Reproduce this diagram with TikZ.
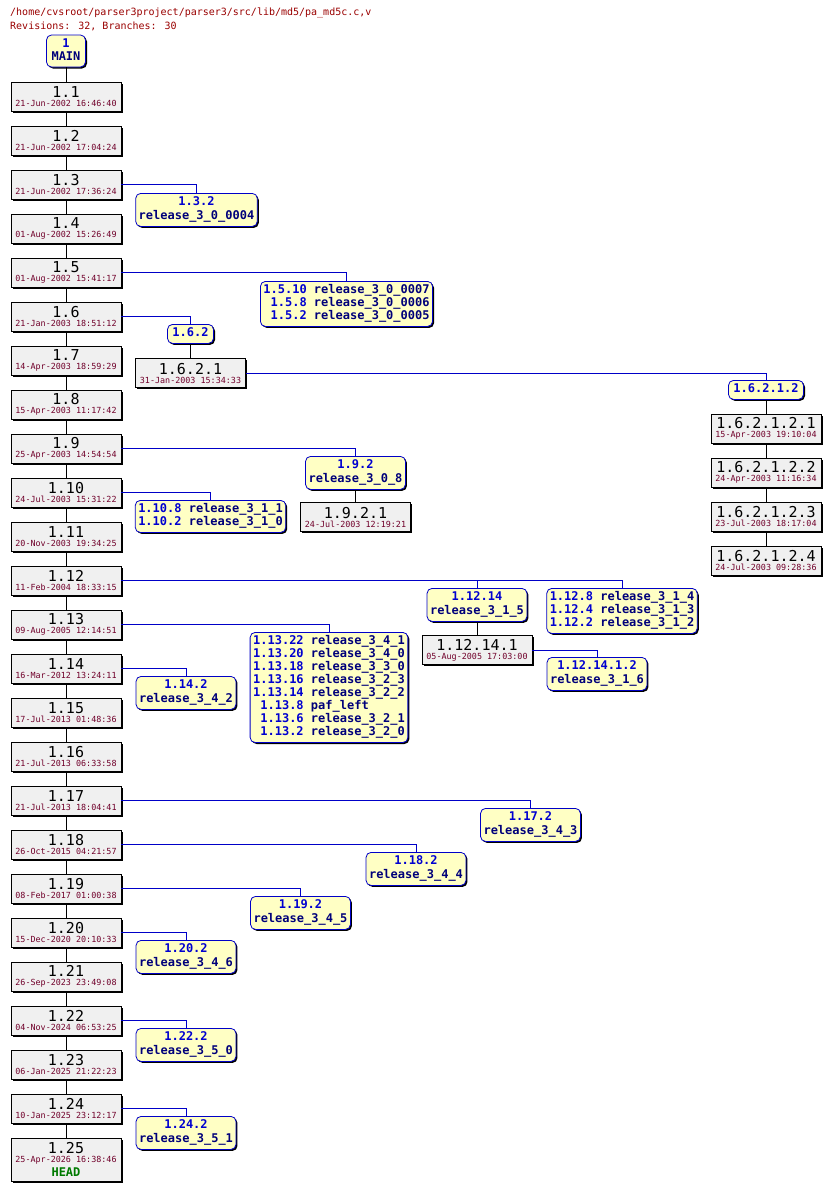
\documentclass[tikz,border=0pt]{standalone}
\usepackage{fontspec}
\setmainfont{DejaVu Sans Mono}
\usepackage{tikz}
\usetikzlibrary{positioning,shadows}
\definecolor{RevFill}{HTML}{F0F0F0}
\definecolor{BrFill}{HTML}{FFFFC4}
\definecolor{BrLine}{HTML}{0000C8}
\definecolor{BrRev}{HTML}{0000D0}
\definecolor{BrTag}{HTML}{00007A}
\definecolor{DateRed}{HTML}{70002A}
\definecolor{PathRed}{HTML}{990000}
\definecolor{HeadGreen}{HTML}{007A00}
\newcommand\revtxt[2]{{\fontsize{15}{9}\selectfont\color{black}#1}\\#2}
\newcommand\brtxt[2]{\strut\textcolor{BrRev}{#1}\\\strut #2}
\tikzset{
  boxshadow/.style={drop shadow={shadow xshift=1.5pt,shadow yshift=-1.5pt,fill=black,opacity=1}},
  revbox/.style={draw=black,fill=RevFill,line width=.8pt,minimum width=110pt,minimum height=29pt,
    inner sep=1pt,align=center,font=\fontsize{8.4}{9}\selectfont,text=DateRed,boxshadow},
  brbox/.style={draw=BrLine,fill=BrFill,line width=.8pt,rounded corners=5pt,inner xsep=3pt,inner ysep=3pt,
    align=center,font=\bfseries\fontsize{12}{13}\selectfont,text=BrTag,anchor=north,boxshadow},
  trunk/.style={draw=black,line width=.9pt},
  brlink/.style={draw=BrLine,line width=.9pt},
  hdr/.style={font=\fontsize{10}{12}\selectfont,text=PathRed,inner sep=0pt,anchor=base west}
}

\begin{document}
\begin{tikzpicture}[x=1pt,y=-1pt]
    \useasboundingbox (0,0) rectangle (831,1191);
    % file header
    \node[hdr] (path) at (10,16) {/home/cvsroot/parser3project/parser3/src/lib/md5/pa\_md5c.c,v};
    \node[hdr] (count) at (10,29) {Revisions: 32, Branches: 30};

    % main trunk
    \node[brbox,anchor=center,minimum width=39pt] (main) at (66,51) {\brtxt{1}{MAIN}};
    \node[revbox] (r1) at (66,96.5) {\revtxt{1.1}{21-Jun-2002 16:46:40}};
    \node[revbox] (r2) at (66,140.5) {\revtxt{1.2}{21-Jun-2002 17:04:24}};
    \node[revbox] (r3) at (66,184.5) {\revtxt{1.3}{21-Jun-2002 17:36:24}};
    \node[revbox] (r4) at (66,228.5) {\revtxt{1.4}{01-Aug-2002 15:26:49}};
    \node[revbox] (r5) at (66,272.5) {\revtxt{1.5}{01-Aug-2002 15:41:17}};
    \node[revbox] (r6) at (66,316.5) {\revtxt{1.6}{21-Jan-2003 18:51:12}};
    \node[revbox] (r7) at (66,360.5) {\revtxt{1.7}{14-Apr-2003 18:59:29}};
    \node[revbox] (r8) at (66,404.5) {\revtxt{1.8}{15-Apr-2003 11:17:42}};
    \node[revbox] (r9) at (66,448.5) {\revtxt{1.9}{25-Apr-2003 14:54:54}};
    \node[revbox] (r10) at (66,492.5) {\revtxt{1.10}{24-Jul-2003 15:31:22}};
    \node[revbox] (r11) at (66,536.5) {\revtxt{1.11}{20-Nov-2003 19:34:25}};
    \node[revbox] (r12) at (66,580.5) {\revtxt{1.12}{11-Feb-2004 18:33:15}};
    \node[revbox] (r13) at (66,624.5) {\revtxt{1.13}{09-Aug-2005 12:14:51}};
    \node[revbox] (r14) at (66,668.5) {\revtxt{1.14}{16-Mar-2012 13:24:11}};
    \node[revbox] (r15) at (66,712.5) {\revtxt{1.15}{17-Jul-2013 01:48:36}};
    \node[revbox] (r16) at (66,756.5) {\revtxt{1.16}{21-Jul-2013 06:33:58}};
    \node[revbox] (r17) at (66,800.5) {\revtxt{1.17}{21-Jul-2013 18:04:41}};
    \node[revbox] (r18) at (66,844.5) {\revtxt{1.18}{26-Oct-2015 04:21:57}};
    \node[revbox] (r19) at (66,888.5) {\revtxt{1.19}{08-Feb-2017 01:00:38}};
    \node[revbox] (r20) at (66,932.5) {\revtxt{1.20}{15-Dec-2020 20:10:33}};
    \node[revbox] (r21) at (66,976.5) {\revtxt{1.21}{26-Sep-2023 23:49:08}};
    \node[revbox] (r22) at (66,1020.5) {\revtxt{1.22}{04-Nov-2024 06:53:25}};
    \node[revbox] (r23) at (66,1064.5) {\revtxt{1.23}{06-Jan-2025 21:22:23}};
    \node[revbox] (r24) at (66,1108.5) {\revtxt{1.24}{10-Jan-2025 23:12:17}};
    \node[revbox,minimum height=43pt] (r25) at (66,1159.5)
      {\revtxt{1.25}{25-Apr-2026 16:38:46}\\[3pt]{\bfseries\fontsize{12}{9}\selectfont\color{HeadGreen}HEAD}};
    \foreach \a/\b in {main/r1,r1/r2,r2/r3,r3/r4,r4/r5,r5/r6,r6/r7,r7/r8,r8/r9,r9/r10,r10/r11,r11/r12,
      r12/r13,r13/r14,r14/r15,r15/r16,r16/r17,r17/r18,r18/r19,r19/r20,r20/r21,r21/r22,r22/r23,r23/r24,r24/r25}
      \draw[trunk] (\a)--(\b);

    % branches and tags
    \node[brbox] (b132) at (196.5,193) {\brtxt{1.3.2}{release\_3\_0\_0004}};
    \node[brbox] (b15) at (346.5,281) {\begin{tabular}{@{}r@{ }l@{}}
      \textcolor{BrRev}{1.5.10} & release\_3\_0\_0007\\
      \textcolor{BrRev}{1.5.8} & release\_3\_0\_0006\\
      \textcolor{BrRev}{1.5.2} & release\_3\_0\_0005\end{tabular}};
    \node[brbox,minimum width=46pt] (b162) at (190.5,324) {\strut\textcolor{BrRev}{1.6.2}};
    \node[revbox] (r1621) at (190.5,373) {\revtxt{1.6.2.1}{31-Jan-2003 15:34:33}};
    \node[brbox,minimum width=75pt] (b16212) at (766,380) {\strut\textcolor{BrRev}{1.6.2.1.2}};
    \node[revbox] (r162121) at (766,428.5) {\revtxt{1.6.2.1.2.1}{15-Apr-2003 19:10:04}};
    \node[revbox] (r162122) at (766,472.5) {\revtxt{1.6.2.1.2.2}{24-Apr-2003 11:16:34}};
    \node[revbox] (r162123) at (766,516.5) {\revtxt{1.6.2.1.2.3}{23-Jul-2003 18:17:04}};
    \node[revbox] (r162124) at (766,560.5) {\revtxt{1.6.2.1.2.4}{24-Jul-2003 09:28:36}};
    \node[brbox] (b192) at (355.5,456) {\brtxt{1.9.2}{release\_3\_0\_8}};
    \node[revbox] (r1921) at (355.5,517) {\revtxt{1.9.2.1}{24-Jul-2003 12:19:21}};
    \node[brbox] (b110) at (210.5,500) {\begin{tabular}{@{}r@{ }l@{}}
      \textcolor{BrRev}{1.10.8} & release\_3\_1\_1\\
      \textcolor{BrRev}{1.10.2} & release\_3\_1\_0\end{tabular}};
    \node[brbox] (b1214) at (477,588) {\brtxt{1.12.14}{release\_3\_1\_5}};
    \node[revbox] (r12141) at (477,650) {\revtxt{1.12.14.1}{05-Aug-2005 17:03:00}};
    \node[brbox] (b121412) at (597,657) {\brtxt{1.12.14.1.2}{release\_3\_1\_6}};
    \node[brbox] (b128) at (622,588) {\begin{tabular}{@{}r@{ }l@{}}
      \textcolor{BrRev}{1.12.8} & release\_3\_1\_4\\
      \textcolor{BrRev}{1.12.4} & release\_3\_1\_3\\
      \textcolor{BrRev}{1.12.2} & release\_3\_1\_2\end{tabular}};
    \node[brbox] (b113) at (329,632) {\begin{tabular}{@{}r@{ }l@{}}
      \textcolor{BrRev}{1.13.22} & release\_3\_4\_1\\
      \textcolor{BrRev}{1.13.20} & release\_3\_4\_0\\
      \textcolor{BrRev}{1.13.18} & release\_3\_3\_0\\
      \textcolor{BrRev}{1.13.16} & release\_3\_2\_3\\
      \textcolor{BrRev}{1.13.14} & release\_3\_2\_2\\
      \textcolor{BrRev}{1.13.8} & paf\_left\\
      \textcolor{BrRev}{1.13.6} & release\_3\_2\_1\\
      \textcolor{BrRev}{1.13.2} & release\_3\_2\_0\end{tabular}};
    \node[brbox] (b114) at (186,676) {\brtxt{1.14.2}{release\_3\_4\_2}};
    \node[brbox] (b117) at (530.5,808) {\brtxt{1.17.2}{release\_3\_4\_3}};
    \node[brbox] (b118) at (416,852) {\brtxt{1.18.2}{release\_3\_4\_4}};
    \node[brbox] (b119) at (300.5,896) {\brtxt{1.19.2}{release\_3\_4\_5}};
    \node[brbox] (b120) at (186,940) {\brtxt{1.20.2}{release\_3\_4\_6}};
    \node[brbox] (b122) at (186,1028) {\brtxt{1.22.2}{release\_3\_5\_0}};
    \node[brbox] (b124) at (186,1116) {\brtxt{1.24.2}{release\_3\_5\_1}};

    \draw[brlink] (r3.east) -| (b132.north);
    \draw[brlink] (r5.east) -| (b15.north);
    \draw[brlink] (r6.east) -| (b162.north);
    \draw[trunk] (b162)--(r1621);
    \draw[brlink] (r1621.east) -| (b16212.north);
    \draw[trunk] (b16212)--(r162121); \draw[trunk] (r162121)--(r162122);
    \draw[trunk] (r162122)--(r162123); \draw[trunk] (r162123)--(r162124);
    \draw[brlink] (r9.east) -| (b192.north);
    \draw[trunk] (b192)--(r1921);
    \draw[brlink] (r10.east) -| (b110.north);
    \draw[brlink] (r12.east) -| (b1214.north);
    \draw[brlink] (r12.east) -| (b128.north);
    \draw[trunk] (b1214)--(r12141);
    \draw[brlink] (r12141.east) -| (b121412.north);
    \draw[brlink] (r13.east) -| (b113.north);
    \draw[brlink] (r14.east) -| (b114.north);
    \draw[brlink] (r17.east) -| (b117.north);
    \draw[brlink] (r18.east) -| (b118.north);
    \draw[brlink] (r19.east) -| (b119.north);
    \draw[brlink] (r20.east) -| (b120.north);
    \draw[brlink] (r22.east) -| (b122.north);
    \draw[brlink] (r24.east) -| (b124.north);
\end{tikzpicture}
\end{document}
